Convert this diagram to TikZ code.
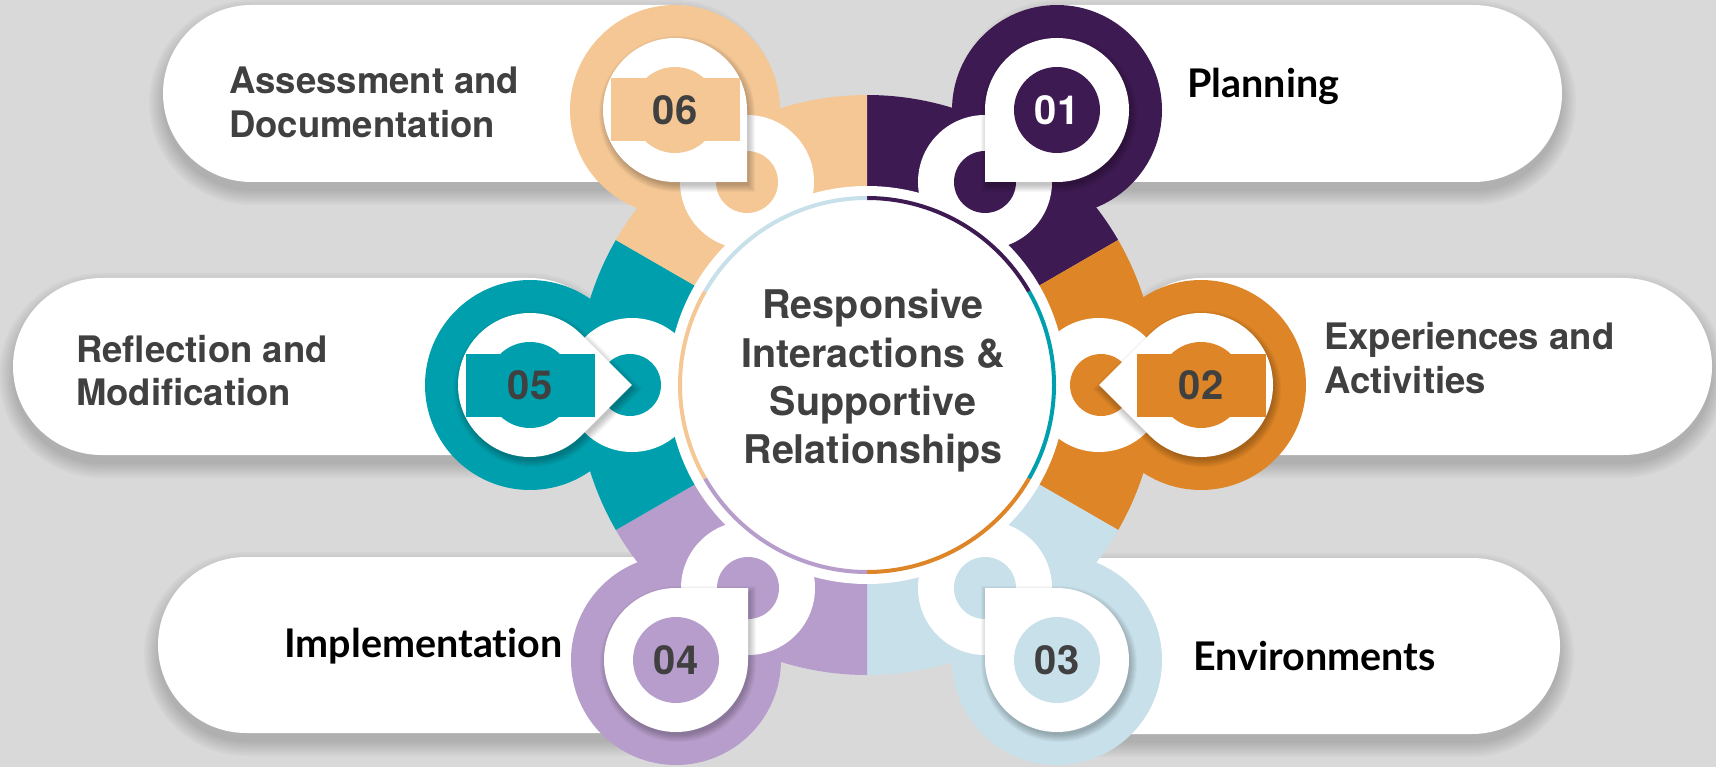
\documentclass[tikz,border=0pt]{standalone}
\usepackage{fontspec}
\setmainfont{TeX Gyre Heros}
\newfontfamily\blkfont{Lato}[Ligatures=CommonOff]
\usetikzlibrary{calc}
\definecolor{bg}{HTML}{D9D9D9}
\definecolor{cPur}{HTML}{3D1A52}
\definecolor{cOra}{HTML}{DD8527}
\definecolor{cLbl}{HTML}{C8E0EA}
\definecolor{cLav}{HTML}{B79DCB}
\definecolor{cTea}{HTML}{009FAD}
\definecolor{cBei}{HTML}{F4C795}
\definecolor{txt}{HTML}{404040}
% stadium: x1 x2 ytop ybot grow
\newcommand{\stad}[5]{({#1+(#4-#3)/2},{#3-#5}) -- ({#2-(#4-#3)/2},{#3-#5}) arc[start angle=-90, end angle=90, radius={(#4-#3)/2+#5}] -- ({#1+(#4-#3)/2},{#4+#5}) arc[start angle=90, end angle=270, radius={(#4-#3)/2+#5}] -- cycle}
% teardrop: corner angle, radius (relative to current origin)
\newcommand{\tdrop}[2]{({#1+45}:{#2}) -- ({#1}:{(#2)*1.41421}) -- ({#1-45}:{#2}) arc[start angle={#1-45}, end angle={#1+45-360}, radius={#2}] -- cycle}
\newcommand{\pill}[4]{%
  \foreach \g in {0,2,...,14} {\fill[black,opacity=0.022,shift={(0,9)}] \stad{#1}{#2}{#3}{#4}{\g};}
  \fill[white] \stad{#1}{#2}{#3}{#4}{0};}
\newcommand{\tearwithshadow}[1]{%
  \foreach \g in {1,...,8} {\fill[black,opacity=0.03,shift={(2,4)}] \tdrop{#1}{70+\g};}
  \fill[white] \tdrop{#1}{72};}
\tikzset{
  num/.style={font=\fontsize{40}{40}\selectfont\bfseries, text=txt, inner sep=0pt},
  lab/.style={font=\fontsize{36.5}{44}\selectfont\bfseries, text=txt, anchor=base west, inner sep=0pt},
  blab/.style={font=\blkfont\bfseries\fontsize{39.5}{44}\selectfont, text=black, anchor=base west, inner sep=0pt},
  ctr/.style={font=\fontsize{39.5}{48}\selectfont\bfseries, text=txt, anchor=base, inner sep=0pt},
  ringseg/.style={line width=4pt}
}
\begin{document}
\begin{tikzpicture}[x=1pt,y=-1pt]
\useasboundingbox (0,0) rectangle (1716,767);
\fill[bg] (0,0) rectangle (1716,767);
% label pills
\pill{163}{763}{5}{182}
\pill{969}{1562}{5}{182}
\pill{13}{618}{278}{455}
\pill{1113}{1712}{278}{455}
\pill{158}{764}{557}{733}
\pill{969}{1560}{558}{734}
% wheel
\coordinate (O) at (867,385);
\fill[cPur] (O) -- ++(-90:290) arc[start angle=-90,end angle=-30,radius=290] -- cycle;
\fill[cOra] (O) -- ++(-30:290) arc[start angle=-30,end angle=30,radius=290] -- cycle;
\fill[cLbl] (O) -- ++(30:290) arc[start angle=30,end angle=90,radius=290] -- cycle;
\fill[cLav] (O) -- ++(90:290) arc[start angle=90,end angle=150,radius=290] -- cycle;
\fill[cTea] (O) -- ++(150:290) arc[start angle=150,end angle=210,radius=290] -- cycle;
\fill[cBei] (O) -- ++(210:290) arc[start angle=210,end angle=270,radius=290] -- cycle;
% big circles
\fill[cPur] (1057,110) circle[radius=105];
\fill[cOra] (1201,385) circle[radius=105];
\fill[cLbl] (1057,660) circle[radius=105];
\fill[cLav] (676,660) circle[radius=105];
\fill[cTea] (530,385) circle[radius=105];
\fill[cBei] (675,110) circle[radius=105];
% centre disc
\fill[white] (O) circle[radius=199];
% connector circles
\fill[white] (985,182) circle[radius=67]; \fill[cPur] (985,182) circle[radius=31];
\fill[white] (1099,385) circle[radius=67]; \fill[cOra] (1101,385) circle[radius=31];
\fill[white] (985,588) circle[radius=67]; \fill[cLbl] (985,588) circle[radius=31];
\fill[white] (748,588) circle[radius=67]; \fill[cLav] (748,588) circle[radius=31];
\fill[white] (632,385) circle[radius=67]; \fill[cTea] (630,385) circle[radius=31];
\fill[white] (747,182) circle[radius=67]; \fill[cBei] (747,182) circle[radius=31];
% coloured ring round the centre
\draw[ringseg,cPur] (O) ++(-90:187) arc[start angle=-90,end angle=-30,radius=187];
\draw[ringseg,cTea] (O) ++(-30:187) arc[start angle=-30,end angle=30,radius=187];
\draw[ringseg,cOra] (O) ++(30:187) arc[start angle=30,end angle=90,radius=187];
\draw[ringseg,cLav] (O) ++(90:187) arc[start angle=90,end angle=150,radius=187];
\draw[ringseg,cBei] (O) ++(150:187) arc[start angle=150,end angle=210,radius=187];
\draw[ringseg,cLbl] (O) ++(210:187) arc[start angle=210,end angle=270,radius=187];
% bubbles
\begin{scope}[shift={(1057,110)}]
  \tearwithshadow{135}
  \fill[cPur] (0,0) circle[radius=43];
  \node[num,text=white] (n1) at (0,0) {01};
\end{scope}
\begin{scope}[shift={(1201,385)}]
  \tearwithshadow{180}
  \fill[cOra] (0,0) circle[radius=43];
  \fill[cOra] (-64.5,-31.5) rectangle (64.5,31.5);
  \node[num] (n2) at (0,0) {02};
\end{scope}
\begin{scope}[shift={(1057,660)}]
  \tearwithshadow{225}
  \fill[cLbl] (0,0) circle[radius=43];
  \node[num] (n3) at (0,0) {03};
\end{scope}
\begin{scope}[shift={(676,660)}]
  \tearwithshadow{-45}
  \fill[cLav] (0,0) circle[radius=43];
  \node[num] (n4) at (0,0) {04};
\end{scope}
\begin{scope}[shift={(530,385)}]
  \tearwithshadow{0}
  \fill[cTea] (0,0) circle[radius=43];
  \fill[cTea] (-64.5,-31.5) rectangle (64.5,31.5);
  \node[num] (n5) at (0,0) {05};
\end{scope}
\begin{scope}[shift={(675,110)}]
  \tearwithshadow{45}
  \fill[cBei] (0,0) circle[radius=43];
  \fill[cBei] (-64.5,-31.5) rectangle (64.5,31.5);
  \node[num] (n6) at (0,0) {06};
\end{scope}
% labels
\node[lab] (l6a) at (229,94) {Assessment and};
\node[lab] (l6b) at (229,138) {Documentation};
\node[lab] (l5a) at (76,362) {Reflection and};
\node[lab] (l5b) at (76,405) {Modification};
\node[lab] (l2a) at (1324,349) {Experiences and};
\node[lab] (l2b) at (1324,393) {Activities};
\node[blab] (l1) at (1187,98) {Planning};
\node[blab] (l4) at (284,657) {Implementation};
\node[blab] (l3) at (1193,670) {Environments};
% centre text
\node[ctr] (c1) at (873,319) {Responsive};
\node[ctr] (c2) at (873,367) {Interactions \&};
\node[ctr] (c3) at (873,415) {Supportive};
\node[ctr] (c4) at (873,463) {Relationships};
\end{tikzpicture}
\end{document}
